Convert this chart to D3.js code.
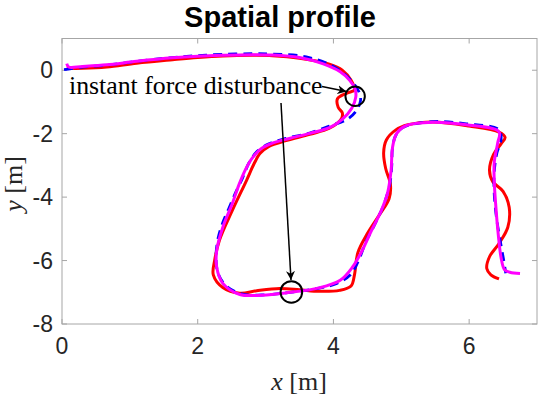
<!DOCTYPE html>
<html><head><meta charset="utf-8">
<script src="https://cdn.jsdelivr.net/npm/d3@7"></script>
<style>body{margin:0;background:#fff}svg{display:block}</style>
</head><body>
<svg id="c" width="540" height="397"></svg>
<script>
const xTicks = [0, 2, 4, 6];
const yTicks = [0, -2, -4, -6, -8];
const xDomain = [0, 7];
const yDomain = [-8, 1];

const measured = [[0.07,0.06],[0.3,0.06],[0.66,0.1],[1.1,0.22],[1.63,0.33],[2.0,0.4],[2.37,0.45],[2.8,0.47],[3.1,0.46],[3.5,0.38],[3.94,0.19],[4.13,0.0],[4.26,-0.32],[4.31,-0.62],[4.2,-0.72],[4.06,-0.9],[4.07,-1.17],[4.13,-1.34],[4.12,-1.52],[3.94,-1.83],[3.65,-2.02],[3.3,-2.22],[3.05,-2.4],[2.92,-2.62],[2.83,-2.95],[2.72,-3.47],[2.51,-4.42],[2.32,-5.36],[2.25,-5.99],[2.23,-6.45],[2.37,-6.85],[2.62,-7.03],[2.87,-6.95],[3.21,-6.88],[3.5,-6.92],[3.79,-6.97],[4.09,-6.94],[4.26,-6.8],[4.31,-6.45],[4.36,-5.75],[4.5,-5.15],[4.68,-4.55],[4.82,-4.05],[4.84,-3.6],[4.77,-3.1],[4.74,-2.6],[4.78,-2.2],[4.92,-1.88],[5.1,-1.72],[5.46,-1.63],[6.0,-1.76],[6.44,-1.95],[6.53,-2.12],[6.47,-2.32],[6.36,-2.65],[6.3,-3.15],[6.35,-3.52],[6.5,-3.82],[6.59,-4.32],[6.57,-4.95],[6.44,-5.46],[6.3,-5.88],[6.26,-6.25],[6.32,-6.45],[6.44,-6.58]];
const reference = [[0.03,0.02],[0.3,0.1],[0.66,0.16],[1.1,0.28],[1.63,0.4],[2.0,0.46],[2.37,0.5],[2.8,0.52],[3.1,0.51],[3.6,0.42],[4.0,0.12],[4.25,-0.3],[4.38,-0.7],[4.4,-0.95],[4.33,-1.3],[4.2,-1.55],[3.94,-1.76],[3.65,-1.98],[3.3,-2.15],[3.05,-2.32],[2.88,-2.55],[2.76,-2.9],[2.66,-3.4],[2.55,-3.9],[2.46,-4.35],[2.37,-4.8],[2.3,-5.3],[2.27,-5.9],[2.3,-6.4],[2.42,-6.8],[2.66,-7.06],[3.0,-7.08],[3.3,-7.02],[3.79,-6.87],[4.05,-6.72],[4.25,-6.45],[4.37,-6.0],[4.48,-5.4],[4.6,-4.9],[4.74,-4.25],[4.83,-3.6],[4.86,-3.0],[4.87,-2.45],[4.92,-2.05],[5.03,-1.8],[5.46,-1.62],[5.96,-1.69],[6.44,-1.88],[6.47,-2.2],[6.41,-2.6],[6.37,-3.2],[6.37,-3.9],[6.4,-4.6],[6.46,-5.4],[6.51,-6.0],[6.54,-6.4]];
const estimated = [[0.07,0.21],[0.1,0.1],[0.3,0.12],[0.66,0.17],[1.1,0.28],[1.63,0.39],[2.0,0.44],[2.37,0.47],[2.8,0.49],[3.1,0.48],[3.5,0.4],[3.85,0.2],[4.1,-0.05],[4.24,-0.32],[4.32,-0.6],[4.33,-0.84],[4.27,-1.2],[4.13,-1.55],[3.95,-1.8],[3.65,-1.99],[3.35,-2.15],[3.1,-2.3],[2.93,-2.48],[2.8,-2.78],[2.7,-3.15],[2.61,-3.6],[2.51,-4.2],[2.37,-4.95],[2.28,-5.68],[2.28,-6.21],[2.37,-6.72],[2.62,-7.07],[2.95,-7.09],[3.3,-7.02],[3.79,-6.86],[4.1,-6.62],[4.28,-6.21],[4.42,-5.7],[4.55,-5.1],[4.7,-4.45],[4.8,-3.85],[4.85,-3.15],[4.87,-2.45],[4.93,-2.0],[5.07,-1.75],[5.46,-1.64],[5.96,-1.72],[6.44,-1.94],[6.42,-2.3],[6.37,-2.9],[6.37,-3.5],[6.39,-4.2],[6.43,-5.2],[6.47,-5.9],[6.52,-6.28],[6.6,-6.37],[6.75,-6.41]];

const annotationText = "instant force disturbance";
const disturbancePoints = [[4.32,-0.82],[3.38,-6.99]];

const svg = d3.select("#c");
const L = 62, R = 537, T = 38.5, B = 324;
const x = d3.scaleLinear().domain(xDomain).range([L, R]);
const y = d3.scaleLinear().domain(yDomain).range([B, T]);
const axisCol = "#a6a6a6", txtCol = "#262626";

svg.append("rect").attr("x", L).attr("y", T).attr("width", R - L).attr("height", B - T)
  .attr("fill", "none").attr("stroke", axisCol).attr("stroke-width", 1);

const tl = 5;
xTicks.forEach(t => {
  svg.append("line").attr("x1", x(t)).attr("x2", x(t)).attr("y1", B).attr("y2", B - tl).attr("stroke", axisCol);
  svg.append("line").attr("x1", x(t)).attr("x2", x(t)).attr("y1", T).attr("y2", T + tl).attr("stroke", axisCol);
  svg.append("text").attr("x", x(t)).attr("y", B + 30).attr("text-anchor", "middle")
    .attr("font-family", "Liberation Sans, Arial, sans-serif").attr("font-size", 23).attr("fill", txtCol).text(t);
});
yTicks.forEach(t => {
  svg.append("line").attr("x1", L).attr("x2", L + tl).attr("y1", y(t)).attr("y2", y(t)).attr("stroke", axisCol);
  svg.append("line").attr("x1", R).attr("x2", R - tl).attr("y1", y(t)).attr("y2", y(t)).attr("stroke", axisCol);
  svg.append("text").attr("x", L - 9).attr("y", y(t) + 8).attr("text-anchor", "end")
    .attr("font-family", "Liberation Sans, Arial, sans-serif").attr("font-size", 23).attr("fill", txtCol).text(t);
});

const line = d3.line().x(d => x(d[0])).y(d => y(d[1])).curve(d3.curveCatmullRom.alpha(0.5));
svg.append("path").attr("d", line(measured)).attr("fill", "none").attr("stroke", "#ff0000").attr("stroke-width", 3).attr("stroke-linejoin", "round");
svg.append("path").attr("d", line(reference)).attr("fill", "none").attr("stroke", "#0000ff").attr("stroke-width", 2.8).attr("stroke-dasharray", "9,6");
svg.append("path").attr("d", line(estimated)).attr("fill", "none").attr("stroke", "#ff00ff").attr("stroke-width", 3).attr("stroke-linejoin", "round");

svg.append("defs").append("marker").attr("id", "ah").attr("viewBox", "0 0 10 10").attr("refX", 10).attr("refY", 5)
  .attr("markerWidth", 9).attr("markerHeight", 9).attr("markerUnits", "userSpaceOnUse").attr("orient", "auto")
  .append("path").attr("d", "M0,0 L10,5 L0,10 L3,5 Z").attr("fill", "#000");
svg.append("text").attr("x", 69).attr("y", 94).attr("font-family", "Liberation Serif, Times New Roman, serif")
  .attr("font-size", 25.8).attr("fill", "#000").text(annotationText);
svg.append("line").attr("x1", 322).attr("y1", 86.5).attr("x2", 346.5).attr("y2", 91.5)
  .attr("stroke", "#000").attr("stroke-width", 1.5).attr("marker-end", "url(#ah)");
svg.append("line").attr("x1", 281).attr("y1", 103).attr("x2", 291).attr("y2", 280)
  .attr("stroke", "#000").attr("stroke-width", 1.5).attr("marker-end", "url(#ah)");
disturbancePoints.forEach((p, i) => {
  svg.append("circle").attr("cx", x(p[0])).attr("cy", y(p[1])).attr("r", i === 0 ? 9.7 : 10.8)
    .attr("fill", "none").attr("stroke", "#000").attr("stroke-width", 2);
});

svg.append("text").attr("x", 280).attr("y", 27).attr("text-anchor", "middle")
  .attr("font-family", "Liberation Sans, Arial, sans-serif").attr("font-weight", "bold").attr("font-size", 29).attr("fill", "#000").text("Spatial profile");
const xl = svg.append("text").attr("x", 299).attr("y", 390).attr("text-anchor", "middle")
  .attr("font-family", "Liberation Serif, Times New Roman, serif").attr("font-size", 26).attr("fill", txtCol);
xl.append("tspan").attr("font-style", "italic").text("x");
xl.append("tspan").text(" [m]");
const yl = svg.append("text").attr("transform", "translate(22,184) rotate(-90)").attr("text-anchor", "middle")
  .attr("font-family", "Liberation Serif, Times New Roman, serif").attr("font-size", 26).attr("fill", txtCol);
yl.append("tspan").attr("font-style", "italic").text("y");
yl.append("tspan").text(" [m]");
</script>
</body></html>
